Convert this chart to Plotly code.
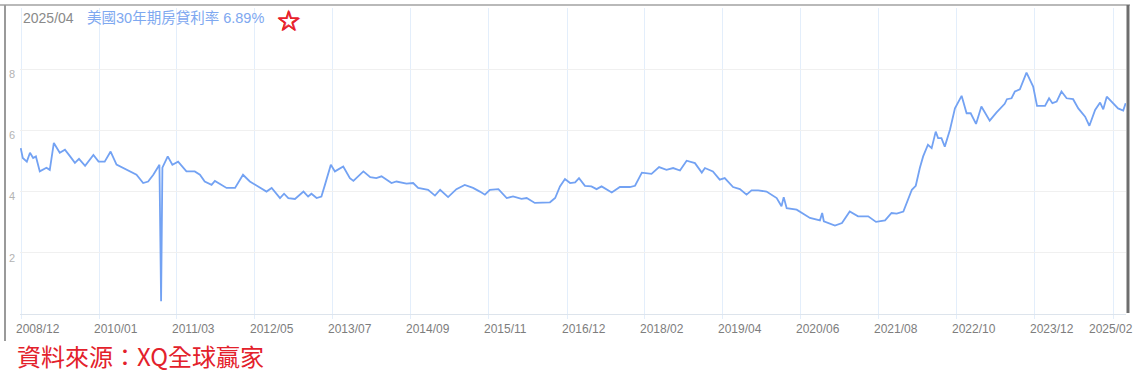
import plotly.graph_objects as go

# ---- data ----
dates = [
    "2008-12-08", "2008-12-19", "2009-01-10", "2009-01-27", "2009-02-13", "2009-02-28",
    "2009-03-21", "2009-04-26", "2009-05-14", "2009-06-05", "2009-07-07", "2009-08-04",
    "2009-09-01", "2009-09-27", "2009-10-19", "2009-11-21", "2010-01-05", "2010-02-02",
    "2010-03-07", "2010-04-08", "2010-05-10", "2010-07-03", "2010-08-26", "2010-10-01",
    "2010-10-28", "2010-11-25", "2010-12-28", "2011-01-06", "2011-01-13", "2011-02-11",
    "2011-03-08", "2011-04-08", "2011-05-23", "2011-07-07", "2011-08-04", "2011-08-30",
    "2011-10-06", "2011-10-24", "2011-12-26", "2012-02-10", "2012-03-24", "2012-04-30",
    "2012-06-14", "2012-07-29", "2012-08-26", "2012-10-10", "2012-11-01", "2012-11-24",
    "2012-12-30", "2013-02-14", "2013-03-11", "2013-03-29", "2013-04-26", "2013-05-22",
    "2013-06-10", "2013-07-12", "2013-08-03", "2013-08-30", "2013-09-17", "2013-10-23",
    "2013-11-11", "2014-01-04", "2014-02-10", "2014-03-15", "2014-04-12", "2014-06-05",
    "2014-07-02", "2014-08-25", "2014-09-30", "2014-10-27", "2014-12-20", "2015-01-26",
    "2015-02-23", "2015-04-07", "2015-05-22", "2015-07-06", "2015-08-20", "2015-09-26",
    "2015-10-23", "2015-11-19", "2016-01-04", "2016-02-18", "2016-03-23", "2016-05-08",
    "2016-06-05", "2016-07-19", "2016-08-25", "2016-10-09", "2016-11-06", "2016-12-02",
    "2016-12-29", "2017-01-26", "2017-02-22", "2017-03-15", "2017-04-16", "2017-05-21",
    "2017-06-18", "2017-07-15", "2017-09-08", "2017-10-22", "2017-12-15", "2018-01-12",
    "2018-02-18", "2018-04-11", "2018-05-22", "2018-07-01", "2018-08-06", "2018-09-12",
    "2018-10-18", "2018-12-02", "2019-01-08", "2019-01-25", "2019-03-09", "2019-04-15",
    "2019-05-12", "2019-06-26", "2019-08-02", "2019-09-07", "2019-10-04", "2019-11-09",
    "2019-12-24", "2020-02-17", "2020-03-14", "2020-03-26", "2020-04-11", "2020-06-04",
    "2020-08-15", "2020-10-08", "2020-10-20", "2020-10-29", "2020-12-28", "2021-02-04",
    "2021-03-18", "2021-05-02", "2021-06-26", "2021-08-07", "2021-09-25", "2021-10-30",
    "2021-11-27", "2022-01-02", "2022-02-17", "2022-03-10", "2022-04-01", "2022-04-19",
    "2022-05-15", "2022-06-04", "2022-06-26", "2022-07-09", "2022-07-27", "2022-08-14",
    "2022-09-11", "2022-10-08", "2022-11-13", "2022-12-10", "2023-01-01", "2023-01-30",
    "2023-02-28", "2023-04-14", "2023-05-20", "2023-07-04", "2023-07-16", "2023-08-10",
    "2023-08-28", "2023-09-24", "2023-10-30", "2023-12-05", "2023-12-26", "2024-02-07",
    "2024-02-29", "2024-03-18", "2024-04-10", "2024-05-06", "2024-06-03", "2024-07-08",
    "2024-08-05", "2024-09-11", "2024-10-04", "2024-11-04", "2024-12-01", "2024-12-18",
    "2025-01-06", "2025-02-11", "2025-03-08", "2025-04-05", "2025-04-18",
]
rates = [
    5.42, 5.10, 4.98, 5.27, 5.10, 5.15,
    4.66, 4.78, 4.71, 5.59, 5.27, 5.37,
    5.15, 4.94, 5.07, 4.84, 5.20, 4.98,
    4.98, 5.31, 4.88, 4.71, 4.55, 4.28,
    4.33, 4.55, 4.88, 0.42, 4.78, 5.15,
    4.88, 4.98, 4.66, 4.66, 4.55, 4.33,
    4.22, 4.35, 4.12, 4.12, 4.55, 4.33,
    4.17, 4.00, 4.12, 3.79, 3.93, 3.79,
    3.76, 4.00, 3.84, 3.93, 3.79, 3.84,
    4.22, 4.88, 4.66, 4.77, 4.82, 4.44,
    4.35, 4.66, 4.47, 4.44, 4.50, 4.28,
    4.33, 4.26, 4.28, 4.12, 4.06, 3.87,
    4.06, 3.82, 4.08, 4.22, 4.12, 4.00,
    3.90, 4.06, 4.08, 3.79, 3.84, 3.76,
    3.79, 3.63, 3.63, 3.65, 3.79, 4.17,
    4.41, 4.28, 4.30, 4.44, 4.19, 4.17,
    4.08, 4.17, 3.97, 4.15, 4.15, 4.19,
    4.62, 4.58, 4.80, 4.71, 4.77, 4.69,
    5.01, 4.93, 4.62, 4.77, 4.66, 4.39,
    4.44, 4.15, 4.08, 3.90, 4.04, 4.04,
    4.00, 3.79, 3.52, 3.82, 3.46, 3.41,
    3.14, 3.06, 3.30, 3.03, 2.89, 2.97,
    3.35, 3.19, 3.19, 3.01, 3.06, 3.30,
    3.28, 3.35, 4.06, 4.19, 4.77, 5.15,
    5.53, 5.42, 5.96, 5.75, 5.75, 5.47,
    6.02, 6.72, 7.13, 6.56, 6.56, 6.21,
    6.78, 6.32, 6.58, 6.87, 7.02, 7.05,
    7.27, 7.34, 7.89, 7.43, 6.80, 6.80,
    7.05, 6.89, 6.94, 7.27, 7.05, 7.02,
    6.72, 6.45, 6.15, 6.67, 6.91, 6.69,
    7.10, 6.89, 6.72, 6.65, 6.89,
]
tick_dates = [
    "2008-12-10", "2010-02-05", "2011-04-01", "2012-05-27", "2013-07-22",
    "2014-09-18", "2015-11-14", "2017-01-10", "2018-03-05", "2019-05-01",
    "2020-06-27", "2021-08-23", "2022-10-18", "2023-12-14", "2025-02-10",
]
tick_labels = [
    "2008/12", "2010/01", "2011/03", "2012/05", "2013/07",
    "2014/09", "2015/11", "2016/12", "2018/02", "2019/04",
    "2020/06", "2021/08", "2022/10", "2023/12", "2025/02",
]
y_ticks = [2, 4, 6, 8]
latest_period = "2025/04"
series_name = "美國30年期房貸利率"
source_text = "資料來源：XQ全球贏家"

LATIN = "Liberation Sans, Arial, Noto Sans CJK TC, sans-serif"
CJK = "Noto Sans CJK TC, Noto Sans CJK SC, sans-serif"

fig = go.Figure()
fig.add_trace(go.Scatter(
    x=dates, y=rates, mode="lines",
    line=dict(color="#73a2f3", width=1.8),
    name=series_name,
))

fig.update_layout(
    width=1138, height=379,
    margin=dict(l=20, r=12, t=8, b=65),
    paper_bgcolor="white", plot_bgcolor="white",
    showlegend=False,
    font=dict(family=LATIN),
)
fig.update_xaxes(
    type="date", range=["2008-12-04", "2025-04-20"],
    tickvals=tick_dates, showticklabels=False,
    showgrid=True, gridcolor="#e3eefb", gridwidth=1,
    showline=True, linecolor="#dde4ec", linewidth=1,
    ticks="outside", ticklen=4, tickcolor="#e3eefb",
    zeroline=False,
)
fig.update_yaxes(
    range=[0, 10], tickvals=y_ticks,
    showgrid=True, gridcolor="#f0f0f0", gridwidth=1,
    zeroline=False, showline=False, ticks="",
    tickfont=dict(size=11, color="#b3b3b3"),
    ticklabelshift=5, ticklabelstandoff=4,
)

# x tick labels (offset to the right of their ticks like the source chart)
for i, (d, lab) in enumerate(zip(tick_dates, tick_labels)):
    last = i == len(tick_dates) - 1
    fig.add_annotation(
        x=d, xref="x", y=0, yref="paper", text=lab, showarrow=False,
        xanchor="center", yanchor="middle",
        xshift=-2 if last else 17, yshift=-15,
        font=dict(size=12, color="#7d7d7d", family=LATIN),
    )

# header
fig.add_annotation(
    x=0.0009, xref="paper", y=1, yref="paper", text=latest_period,
    showarrow=False, xanchor="left", yanchor="middle", yshift=-9.5,
    font=dict(size=14, color="#8a8a8a", family=LATIN),
)
fig.add_annotation(
    x=0.0588, xref="paper", y=1, yref="paper",
    text=f"{series_name} {rates[-1]:.2f}%",
    showarrow=False, xanchor="left", yanchor="middle", yshift=-9.5,
    font=dict(size=14.5, color="#7ea8f0", family=LATIN),
)
# outlined red star, drawn a few times with tiny offsets for a heavier stroke
for dx, dy in [(0, 0), (0.8, 0), (-0.8, 0), (0, 0.8), (0, -0.8)]:
    fig.add_annotation(
        x=0.2432, xref="paper", y=1, yref="paper", text="☆",
        showarrow=False, xanchor="center", yanchor="middle",
        xshift=dx, yshift=-13 + dy,
        font=dict(size=28, color="#e8202a", family="DejaVu Sans"),
    )

# source note
fig.add_annotation(
    x=-0.0045, xref="paper", y=0, yref="paper", text=source_text,
    showarrow=False, xanchor="left", yanchor="middle", yshift=-41,
    font=dict(size=24, color="#e3212b", family=CJK),
)

# frame lines
fig.add_shape(type="line", xref="paper", yref="paper",
              x0=-0.0181, x1=1.0036, y0=1.0098, y1=1.0098,
              line=dict(color="#b9b9b9", width=2))
fig.add_shape(type="line", xref="paper", yref="paper",
              x0=-0.01356, x1=-0.01356, y0=1.0098, y1=-0.088,
              line=dict(color="#9a9a9a", width=2))
fig.add_shape(type="line", xref="paper", yref="paper",
              x0=1.0018, x1=1.0018, y0=1.0098, y1=0.003,
              line=dict(color="#6e6e6e", width=3))

fig.write_html("out.html")
